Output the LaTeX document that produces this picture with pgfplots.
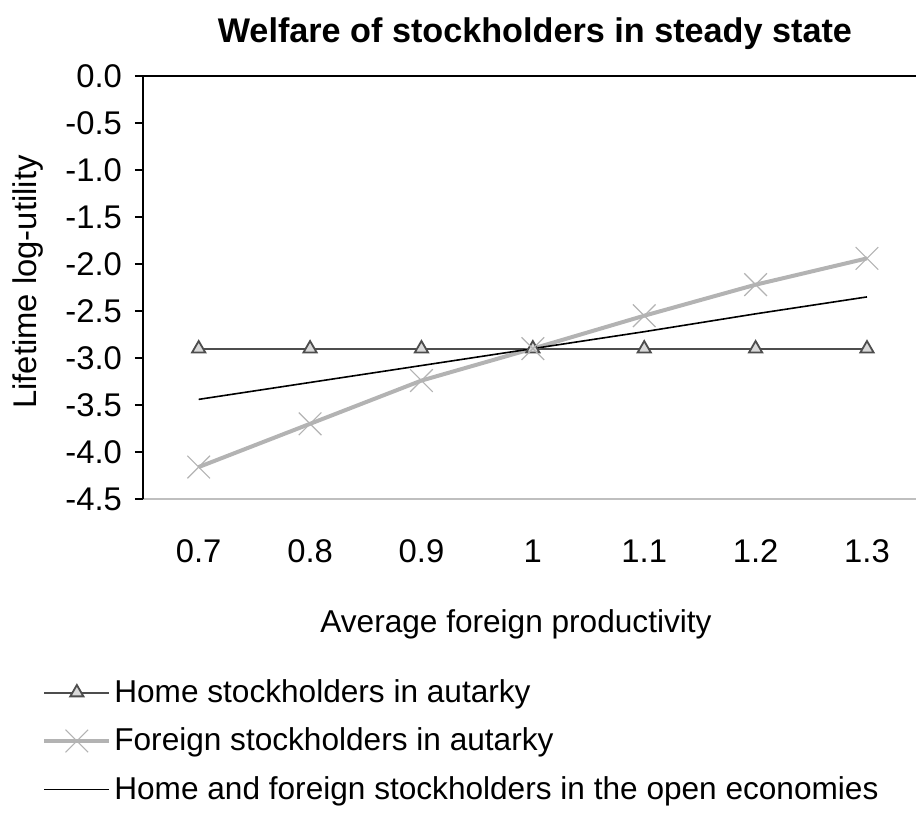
\documentclass[border=0pt]{standalone}
\usepackage{pgfplots}
\pgfplotsset{compat=1.18}
\usepackage{fontspec}
\setmainfont{Liberation Sans}
\definecolor{homegray}{HTML}{4D4D4D}
\definecolor{homefill}{HTML}{D9D9D9}
\definecolor{forgray}{HTML}{B3B3B3}
\definecolor{bordergray}{HTML}{BFBFBF}
\begin{document}
\begin{tikzpicture}
\begin{axis}[
  name=ax,
  scale only axis,
  width=386.5pt, height=211.5pt,
  xmin=-0.5, xmax=6.44,
  ymin=-4.5, ymax=0,
  xtick={0,1,2,3,4,5,6},
  xticklabels={0.7,0.8,0.9,1,1.1,1.2,1.3},
  major x tick style={draw=none},
  ytick={0,-0.5,-1,-1.5,-2,-2.5,-3,-3.5,-4,-4.5},
  yticklabels={0.0,-0.5,-1.0,-1.5,-2.0,-2.5,-3.0,-3.5,-4.0,-4.5},
  ytick pos=left,
  tick align=outside,
  major tick length=4pt,
  y tick style={black, line width=0.6pt},
  axis line style={draw=none},
  tick label style={font=\fontsize{16.4}{19}\selectfont},
  xticklabel style={anchor=north, text height=12pt, text depth=0pt, yshift=-12pt},
  yticklabel style={xshift=-3pt},
  xlabel={Average foreign productivity},
  xlabel style={font=\fontsize{15.8}{19}\selectfont, at={(axis description cs:0.4825,0)}, anchor=center, yshift=-62.5pt},
  ylabel={Lifetime log-utility},
  ylabel style={font=\fontsize{16.4}{19}\selectfont, at={(axis description cs:-0.149,0.513)}, anchor=center},
  title={Welfare of stockholders in steady state},
  title style={font=\fontsize{17.1}{20}\selectfont\bfseries, at={(axis description cs:0.507,1)}, anchor=center, yshift=15pt},
  legend style={at={(axis description cs:-0.1307,-0.419)}, anchor=north west, draw=none, fill=none,
    font=\fontsize{15.8}{19}\selectfont, row sep=8.25pt, inner sep=0pt,
    nodes={inner sep=1.5pt}},
  legend cell align=left,
  legend image code/.code={\draw[mark repeat=2,mark phase=2,#1] plot coordinates {(0pt,0pt) (16.25pt,0pt) (32.5pt,0pt)};},
  clip=false,
]
\draw[bordergray, line width=0.6pt] (rel axis cs:0,0) -- (rel axis cs:1,0);
\draw[black, line width=0.7pt] (rel axis cs:0,0) -- (rel axis cs:0,1);
\draw[black, line width=0.7pt] (rel axis cs:0,1) -- (rel axis cs:1,1);
\addplot[homegray, line width=1pt, mark=triangle*, mark size=3.8pt,
  mark options={fill=homefill, draw=homegray, line width=0.9pt}]
  coordinates {(0,-2.90) (1,-2.90) (2,-2.90) (3,-2.90) (4,-2.90) (5,-2.90) (6,-2.90)};
\addlegendentry{Home stockholders in autarky}
\addplot[forgray, line width=2pt, mark=x, mark size=8pt,
  mark options={forgray, line width=0.6pt}]
  coordinates {(0,-4.16) (1,-3.70) (2,-3.24) (3,-2.90) (4,-2.55) (5,-2.22) (6,-1.94)};
\addlegendentry{Foreign stockholders in autarky}
\addplot[black, line width=0.8pt, no marks]
  coordinates {(0,-3.44) (1,-3.26) (2,-3.08) (3,-2.90) (4,-2.72) (5,-2.53) (6,-2.35)};
\addlegendentry{Home and foreign stockholders in the open economies}
\end{axis}
\pgfresetboundingbox
\path ([xshift=-71.5pt,yshift=-161pt]ax.south west) rectangle ++(458pt,410.5pt);
\end{tikzpicture}
\end{document}
